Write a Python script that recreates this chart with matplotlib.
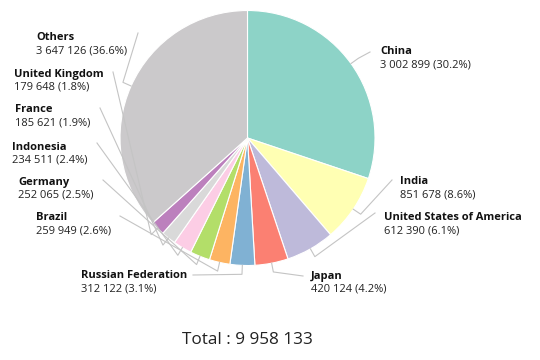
import numpy as np
import matplotlib.pyplot as plt

plt.rcParams['font.family'] = ['Open Sans', 'DejaVu Sans']

# data
countries = ["China", "India", "United States of America", "Japan",
             "Russian Federation", "Brazil", "Germany", "Indonesia",
             "France", "United Kingdom", "Others"]
values = [3002899, 851678, 612390, 420124, 312122, 259949, 252065,
          234511, 185621, 179648, 3647126]
colors = ["#8dd3c7", "#ffffb3", "#bebada", "#fb8072", "#80b1d3", "#fdb462",
          "#b3de69", "#fccde5", "#d9d9d9", "#bc80bd", "#cbc9cb"]

# layout in pixels: label left x, name line y, leader end x/y
label_pos = [(380, 52), (400, 182), (384, 218), (311, 276), (81, 276),
             (36, 218), (18, 182), (12, 147), (15, 110), (14, 74), (36, 38)]
line_end = [(370, 52), (392, 180), (375, 213), (303, 276), (193, 275),
            (120, 216), (103, 180), (97, 143), (100, 108), (113, 72), (138, 33)]

W, H = 540, 360
cx, cy, R = 247.5, 138, 127.5


def to_data(px, py):
    return (px - cx) / R, (cy - py) / R


fig = plt.figure(figsize=(W / 100, H / 100), dpi=100)
ax = fig.add_axes([0, 0, 1, 1])

wedges, _ = ax.pie(values, colors=colors, startangle=90, counterclock=False,
                   radius=1, wedgeprops=dict(edgecolor='white', linewidth=0.8))

# pie() resets the limits, so set them afterwards
ax.set_xlim(-cx / R, (W - cx) / R)
ax.set_ylim(-(H - cy) / R, cy / R)
ax.set_aspect('equal')
ax.axis('off')

total = sum(values)
for i, w in enumerate(wedges):
    mid = np.deg2rad((w.theta1 + w.theta2) / 2)
    x0, y0 = np.cos(mid), np.sin(mid)
    x1, y1 = 1.07 * x0, 1.07 * y0
    x2, y2 = to_data(*line_end[i])
    ax.plot([x0, x1, x2], [y0, y1, y2], color='#c4c4c4', lw=0.8,
            solid_joinstyle='round')
    lx, ly = to_data(*label_pos[i])
    ax.text(lx, ly, countries[i], fontsize=8, fontweight='bold',
            color='#111111', va='center', ha='left')
    pct = values[i] / total * 100
    val = f"{values[i]:,}".replace(",", " ")
    ax.text(lx, ly - 13 / R, f"{val} ({pct:.1f}%)", fontsize=8,
            color='#222222', va='center', ha='left')

tx, ty = to_data(247, 340)
ax.text(tx, ty, "Total : " + f"{total:,}".replace(",", " "), fontsize=12.3,
        color='#222222', ha='center', va='center')

fig.savefig("out.png", dpi=100, facecolor='white')
